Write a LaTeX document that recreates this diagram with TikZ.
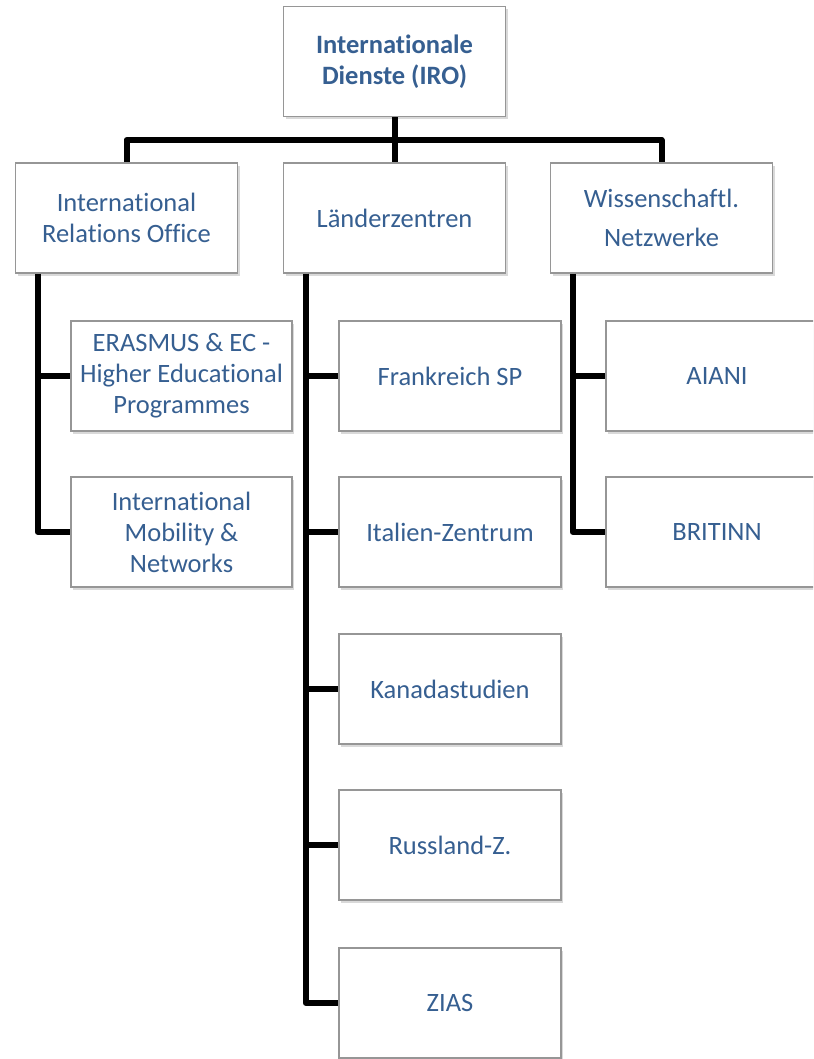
\documentclass[tikz,border=0pt]{standalone}
\usepackage{fontspec}
\setmainfont[Ligatures=NoCommon]{Carlito}
\usetikzlibrary{shadows}
\definecolor{textblau}{RGB}{54,95,145}
\definecolor{rahmen}{RGB}{150,150,150}
\tikzset{
  einheit/.style={draw=rahmen, line width=1.5pt, fill=white, text=textblau,
    minimum width=222pt, minimum height=110pt, align=center,
    font=\fontsize{26.5}{31}\selectfont,
    drop shadow={shadow xshift=2pt, shadow yshift=-3pt, opacity=0.3}},
  kante/.style={line width=6pt, line join=round}
}
\begin{document}
\begin{tikzpicture}[x=1pt,y=-1pt]
            \useasboundingbox (0,0) rectangle (813,1059);
            \clip (0,0) rectangle (813,1059);

            % Leitung
            \node[einheit, font=\fontsize{26.5}{31}\selectfont\bfseries] (iro) at (394.5,61.5) {Internationale\\Dienste (IRO)};

            % Zweite Ebene
            \node[einheit] (iro-office) at (126.5,218) {International\\Relations Office};
            \node[einheit] (lz) at (394.5,218) {Länderzentren};
            \node[einheit, font=\fontsize{26.5}{39}\selectfont] (wiss) at (661.5,218) {Wissenschaftl.\\Netzwerke};

            % Unter International Relations Office
            \node[einheit, minimum width=221pt] (erasmus) at (181.5,376) {ERASMUS \& EC -\\Higher Educational\\Programmes};
            \node[einheit, minimum width=221pt] (mobil) at (181.5,532) {International\\Mobility \&\\Networks};

            % Unter Länderzentren
            \node[einheit] (frank) at (450,376) {Frankreich SP};
            \node[einheit] (ital) at (450,532) {Italien-Zentrum};
            \node[einheit] (kanada) at (450,689) {Kanadastudien};
            \node[einheit] (russ) at (450,845) {Russland-Z.};
            \node[einheit] (zias) at (450,1003) {ZIAS};

            % Unter Wissenschaftl. Netzwerke
            \node[einheit] (aiani) at (717,376) {AIANI};
            \node[einheit] (britinn) at (717,532) {BRITINN};

            % Verbindungen
            \coordinate (bar) at (394.5,140);
            \draw[kante] (iro.south) -- (lz.north);
            \draw[kante] (iro-office.north) |- (bar) -| (wiss.north);

            \coordinate (l-ast) at ([xshift=23pt]iro-office.south west);
            \coordinate (m-ast) at ([xshift=23pt]lz.south west);
            \coordinate (r-ast) at ([xshift=23pt]wiss.south west);

            \draw[kante] (l-ast) |- (erasmus.west);
            \draw[kante] (l-ast) |- (mobil.west);

            \foreach \ziel in {frank, ital, kanada, russ, zias}
              \draw[kante] (m-ast) |- (\ziel.west);

            \draw[kante] (r-ast) |- (aiani.west);
            \draw[kante] (r-ast) |- (britinn.west);
        \end{tikzpicture}
\end{document}
